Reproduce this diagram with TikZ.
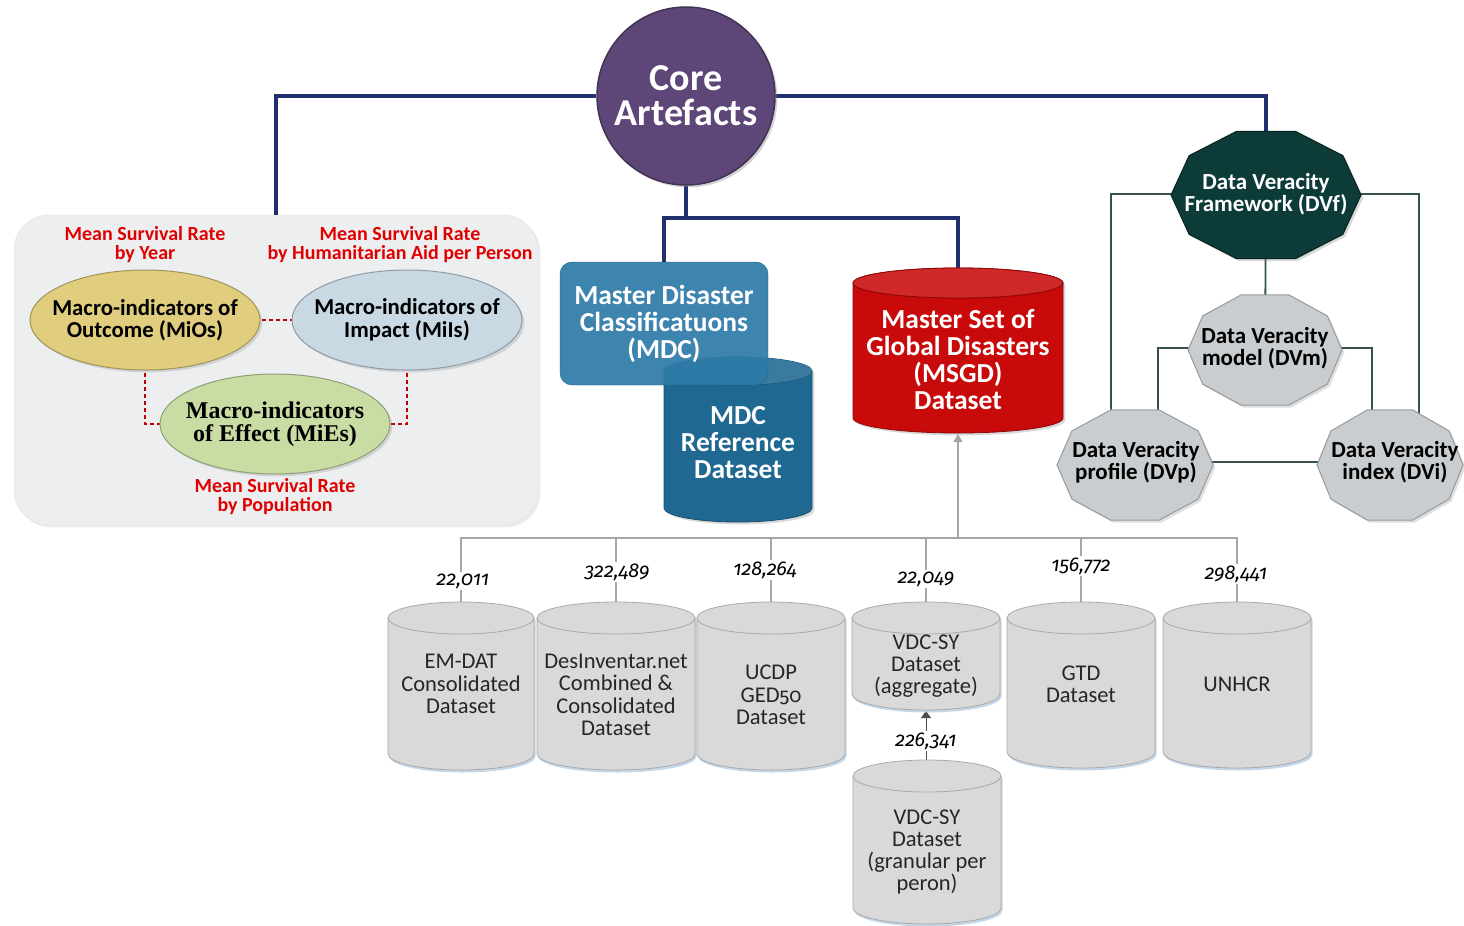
\documentclass[tikz,border=0pt]{standalone}
\usepackage{fontspec}
\setmainfont{Carlito}
\newfontfamily\numfont[Numbers=OldStyle]{Fira Sans}
\newfontfamily\serifbold{Liberation Serif}
\usetikzlibrary{arrows.meta,calc,shadows,shapes.geometric}
\pgfdeclarelayer{back}
\pgfdeclarelayer{lines}
\pgfsetlayers{back,lines,main}

\definecolor{navy}{HTML}{1F2F70}
\definecolor{corepurple}{HTML}{5E4778}
\definecolor{mdcblue}{HTML}{2E7BA8}
\definecolor{mdcdark}{HTML}{1F6891}
\definecolor{msgdred}{HTML}{C80A0A}
\definecolor{dvfteal}{HTML}{0C3B38}
\definecolor{octgray}{HTML}{C9CDD0}
\definecolor{cylgray}{HTML}{D9D9D9}
\definecolor{cylline}{HTML}{A9A9A9}
\definecolor{panelgray}{HTML}{EDEEF0}
\definecolor{labred}{HTML}{E00000}
\definecolor{dashred}{HTML}{C00000}
\definecolor{linegray}{HTML}{A6A6A6}
\definecolor{tealline}{HTML}{35524F}
\definecolor{mioc}{HTML}{E0CD7E}
\definecolor{miic}{HTML}{C8D9E3}
\definecolor{miec}{HTML}{C9DCA3}
\definecolor{shadowblue}{HTML}{A9C6E0}

% cx, ytop, ybot, rx, ry, fill, draw, extra
\newcommand\mycyl[8]{%
  \path[fill=#6,draw=#7,line width=0.8pt,#8] (#1-#4,#2) -- (#1-#4,#3)
    arc[start angle=180,end angle=0,x radius=#4,y radius=#5] -- (#1+#4,#2)
    arc[start angle=0,end angle=-180,x radius=#4,y radius=#5] -- cycle;
  \draw[draw=#7,line width=0.8pt] (#1-#4,#2) arc[start angle=180,end angle=0,x radius=#4,y radius=#5];
}
% cx, cy, rx, ry, fill, draw, extra
\newcommand\mypoly[7]{%
  \path[fill=#5,draw=#6,line width=1pt,#7] plot[samples=11,domain=0:360,variable=\t]
    ({#1+#3*cos(\t)},{#2+#4*sin(\t)}) -- cycle;
}
% cx, cy, fill
\newcommand\myell[3]{%
  \path[fill=#3,draw=#3!72!black,line width=1pt,drop shadow={opacity=0.25}] (#1,#2) ellipse[x radius=115,y radius=50];
}

\begin{document}
\begin{tikzpicture}[x=1pt,y=-1pt,
  navyl/.style={draw=navy,line width=4pt},
  reddash/.style={draw=dashred,line width=2.5pt,dash pattern=on 4pt off 3pt},
  grayl/.style={draw=linegray,line width=1.3pt},
  teall/.style={draw=tealline,line width=1.8pt},
  bigw/.style={text=white,align=center,font=\bfseries\fontsize{27.5}{27}\selectfont},
  elltxt/.style={align=center,font=\bfseries\fontsize{22.8}{22.5}\selectfont},
  redlbl/.style={text=labred,align=center,font=\bfseries\fontsize{20}{19}\selectfont},
  cyltxt/.style={text=black!85,align=center,font=\fontsize{22.5}{22.3}\selectfont},
  numl/.style={fill=white,inner sep=1.5pt,font=\numfont\itshape\fontsize{20}{20}\selectfont},
  dvw/.style={text=white,align=center,font=\bfseries\fontsize{23}{22}\selectfont},
  dvb/.style={text=black,align=center,font=\bfseries\fontsize{23}{22}\selectfont},
  cylshadow/.style={drop shadow={fill=shadowblue,opacity=0.7,shadow xshift=1.5pt,shadow yshift=-2.5pt}}
]
\useasboundingbox (0,0) rectangle (1464,926);

% ---------- left panel ----------
\begin{pgfonlayer}{back}
\node[fill=panelgray,draw=black!12,rounded corners=35pt,minimum width=524pt,minimum height=310pt,
      drop shadow={opacity=0.15}] (panel) at (276,370) {};
\end{pgfonlayer}

\myell{145}{320}{mioc}
\node[elltxt] (mios) at (145,320) {Macro-indicators of\\Outcome (MiOs)};
\myell{407}{320}{miic}
\node[elltxt] (miis) at (407,320) {Macro-indicators of\\Impact (MiIs)};
\myell{275}{424}{miec}
\node[align=center,font=\serifbold\bfseries\fontsize{24}{23}\selectfont] (mies) at (275,424) {Macro-indicators\\of Effect (MiEs)};

\node[redlbl] (lblyear) at (145,245) {Mean Survival Rate\\by Year};
\node[redlbl] (lblaid) at (400,245) {Mean Survival Rate\\by Humanitarian Aid per Person};
\node[redlbl] (lblpop) at (275,497) {Mean Survival Rate\\by Population};

% ---------- core ----------
\node[circle,minimum size=178pt,fill=corepurple,draw=corepurple!70!black,line width=1.5pt,
      drop shadow={opacity=0.35},text=white,align=center,
      font=\bfseries\fontsize{38}{35}\selectfont] (core) at (686,96) {Core\\Artefacts};

% ---------- MDC ----------
\mycyl{738}{371}{508}{74}{14}{mdcdark}{mdcdark!75!black}{drop shadow={opacity=0.3}}
\fill[mdcdark!88!white] (738,371) ellipse[x radius=74,y radius=14];
\node[bigw] (mdcref) at (738,443) {MDC\\Reference\\Dataset};
\node[rounded corners=12pt,fill=mdcblue,fill opacity=0.93,text opacity=1,draw=mdcblue!80!black,
      minimum width=208pt,minimum height=123pt,bigw] (mdc) at (664,323.5)
      {Master Disaster\\Classificatuons\\(MDC)};

% ---------- MSGD ----------
\mycyl{958}{283}{418}{105}{15}{msgdred}{msgdred!70!black}{drop shadow={opacity=0.3}}
\fill[msgdred!88!white] (958,283) ellipse[x radius=105,y radius=15];
\draw[msgdred!70!black,line width=0.8pt] (958,283) ellipse[x radius=105,y radius=15];
\node[bigw] (msgd) at (958,360) {Master Set of\\Global Disasters\\(MSGD)\\Dataset};

% ---------- data veracity ----------
\mypoly{1266}{195}{95}{67}{dvfteal}{dvfteal!60!black}{drop shadow={opacity=0.3}}
\node[dvw] (dvf) at (1266,194) {Data Veracity\\Framework (DVf)};
\mypoly{1265}{350}{77}{58}{octgray}{octgray!75!black}{drop shadow={opacity=0.25}}
\node[dvb] (dvm) at (1265,348) {Data Veracity\\model (DVm)};
\mypoly{1135}{465}{78}{58}{octgray}{octgray!75!black}{drop shadow={opacity=0.25}}
\node[dvb] (dvp) at (1136,462) {Data Veracity\\profile (DVp)};
\mypoly{1390}{465}{73}{58}{octgray}{octgray!75!black}{drop shadow={opacity=0.25}}
\node[dvb] (dvi) at (1395,462) {Data Veracity\\index (DVi)};

% ---------- source datasets ----------
\mycyl{461}{618}{754}{73}{16}{cylgray}{cylline}{cylshadow}
\node[cyltxt] (emdat) at (461,684) {EM-DAT\\Consolidated\\Dataset};
\mycyl{616}{618}{754}{79}{16}{cylgray}{cylline}{cylshadow}
\node[cyltxt] (desinv) at (616,695) {DesInventar.net\\Combined \&\\Consolidated\\Dataset};
\mycyl{771}{618}{754}{74}{16}{cylgray}{cylline}{cylshadow}
\node[cyltxt] (ucdp) at (771,695) {UCDP\\GED{\numfont\fontsize{20}{22}\selectfont 50}\\Dataset};
\mycyl{926}{618}{694}{74}{16}{cylgray}{cylline}{cylshadow}
\node[cyltxt] (agg) at (926,666) {VDC-SY\\Dataset\\(aggregate)};
\mycyl{1081}{618}{752}{74}{16}{cylgray}{cylline}{cylshadow}
\node[cyltxt] (gtd) at (1081,684) {GTD\\Dataset};
\mycyl{1237}{618}{752}{74}{16}{cylgray}{cylline}{cylshadow}
\node[cyltxt] (unhcr) at (1237,684) {UNHCR};
\mycyl{927}{776}{908}{74}{16}{cylgray}{cylline}{cylshadow}
\node[cyltxt] (gran) at (927,852) {VDC-SY\\Dataset\\(granular per\\peron)};

\coordinate (emdatT) at (461,602);
\coordinate (desinvT) at (616,602);
\coordinate (ucdpT) at (771,602);
\coordinate (aggT) at (926,602);
\coordinate (aggB) at (926,711);
\coordinate (gtdT) at (1081,602);
\coordinate (unhcrT) at (1237,602);
\coordinate (granT) at (926,760);
\coordinate (msgdB) at (958,434);
\coordinate (hub) at (958,538);
\coordinate (split) at (686,218);

% numbers
\node[numl] (n1) at (463,581) {22,011};
\node[numl] (n2) at (617,572) {322,489};
\node[numl] (n3) at (765,570) {128,264};
\node[numl] (n4) at (926,579) {22,049};
\node[numl] (n5) at (1081,566) {156,772};
\node[numl] (n6) at (1236,574) {298,441};
\node[numl] (n7) at (926,741) {226,341};

% ---------- connectors ----------
\begin{pgfonlayer}{lines}
\draw[navyl] (core) -| (panel.north);
\draw[navyl] (core) -| (dvf);
\draw[navyl] (core) -- (split);
\draw[navyl] (split) -| (mdc.north);
\draw[navyl] (split) -| (msgd);

\draw[reddash] (mios) -- (miis);
\draw[reddash] (mios) |- (mies);
\draw[reddash] (miis) |- (mies);

\draw[teall] (dvf) -| ($(dvp)+(-25,0)$);
\draw[teall] (dvf) -| ($(dvi)+(24,0)$);
\draw[teall] (dvf) -- (dvm);
\draw[teall] (dvm) -| ($(dvp)+(22,0)$);
\draw[teall] (dvm) -| ($(dvi)+(-23,0)$);
\draw[teall] (dvp) -- (dvi);

\draw[grayl] (emdatT) |- (hub);
\draw[grayl] (desinvT) |- (hub);
\draw[grayl] (ucdpT) |- (hub);
\draw[grayl] (aggT) |- (hub);
\draw[grayl] (gtdT) |- (hub);
\draw[grayl] (unhcrT) |- (hub);
\draw[grayl,-{Triangle[length=8pt,width=9pt]}] (hub) -- (msgdB);
\draw[draw=black!70,line width=1pt,-{Triangle[length=7pt,width=10pt]},fill=black] (granT) -- (aggB);
\end{pgfonlayer}
\end{tikzpicture}
\end{document}
